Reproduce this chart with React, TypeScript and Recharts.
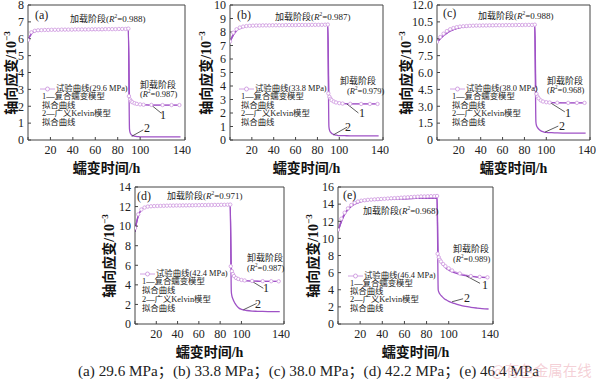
import React from 'react';
import { ComposedChart, Line, XAxis, YAxis, ReferenceLine } from 'recharts';

// time stamps (h) for the test curve and the two fitted curves
const T_EXP = [0, 3, 6, 9, 12, 15, 18, 21, 24, 27, 30, 33, 36, 39, 42, 45, 48, 51, 54, 57, 60, 63, 66, 69, 72, 75, 78, 81, 84, 87, 89.5,
  90, 91, 92, 93, 95, 97, 100, 103, 110, 120, 128, 135];
const T_FIT = [0, 1, 2, 3, 4, 5, 6, 8, 10, 12, 15, 20, 25, 30, 40, 50, 60, 70, 80, 89.5,
  90.5, 91, 92, 94, 96, 98, 100, 105, 110, 115, 120, 125, 130, 136];
const X_TICKS = [0, 20, 40, 60, 80, 100, 120, 140];

// (a) 29.6 MPa
const EXP_A = [5.92, 6.38, 6.47, 6.5, 6.51, 6.52, 6.52, 6.53, 6.53, 6.53, 6.54, 6.54, 6.54, 6.54, 6.55, 6.55, 6.55, 6.55, 6.55, 6.56, 6.56, 6.56, 6.56, 6.57, 6.57, 6.57, 6.57, 6.58, 6.58, 6.58, 6.6,
  2.6, 2.4, 2.3, 2.24, 2.18, 2.14, 2.11, 2.09, 2.08, 2.07, 2.07, 2.07];
const LOAD_A = [5.88, 6.05, 6.18, 6.28, 6.35, 6.4, 6.43, 6.47, 6.49, 6.5, 6.51, 6.52, 6.53, 6.53, 6.54, 6.54, 6.54, 6.55, 6.55, 6.55];
const UNLOAD1_A = [2.55, 2.4, 2.3, 2.2, 2.15, 2.12, 2.1, 2.08, 2.07, 2.07, 2.07, 2.07, 2.07, 2.07];
const UNLOAD2_A = [0.65, 0.45, 0.32, 0.24, 0.21, 0.2, 0.19, 0.18, 0.18, 0.18, 0.18, 0.18, 0.18, 0.18];

// (b) 33.8 MPa
const EXP_B = [7.3, 7.95, 8.2, 8.33, 8.4, 8.44, 8.46, 8.47, 8.48, 8.48, 8.49, 8.49, 8.49, 8.5, 8.5, 8.5, 8.5, 8.51, 8.51, 8.51, 8.51, 8.52, 8.52, 8.52, 8.52, 8.53, 8.53, 8.53, 8.53, 8.54, 8.55,
  3.45, 3.2, 3.05, 2.95, 2.85, 2.78, 2.73, 2.7, 2.68, 2.67, 2.67, 2.67];
const LOAD_B = [7.25, 7.45, 7.62, 7.77, 7.9, 8.0, 8.09, 8.22, 8.31, 8.37, 8.42, 8.46, 8.48, 8.49, 8.5, 8.5, 8.51, 8.51, 8.52, 8.52];
const UNLOAD1_B = [3.4, 3.2, 3.05, 2.9, 2.82, 2.77, 2.74, 2.7, 2.68, 2.67, 2.67, 2.67, 2.67, 2.67];
const UNLOAD2_B = [1.0, 0.75, 0.58, 0.44, 0.38, 0.35, 0.33, 0.32, 0.31, 0.31, 0.3, 0.3, 0.3, 0.3];

// (c) 38.0 MPa
const EXP_C = [8.72, 9.15, 9.45, 9.68, 9.84, 9.95, 10.03, 10.08, 10.11, 10.13, 10.15, 10.16, 10.17, 10.17, 10.18, 10.18, 10.19, 10.19, 10.2, 10.2, 10.2, 10.21, 10.21, 10.21, 10.22, 10.22, 10.22, 10.23, 10.23, 10.23, 10.25,
  4.5, 4.1, 3.85, 3.7, 3.52, 3.42, 3.36, 3.33, 3.31, 3.3, 3.3, 3.3];
const LOAD_C = [8.65, 8.77, 8.89, 9.0, 9.1, 9.19, 9.28, 9.43, 9.56, 9.67, 9.8, 9.96, 10.05, 10.1, 10.15, 10.17, 10.18, 10.19, 10.2, 10.2];
const UNLOAD1_C = [4.3, 4.0, 3.8, 3.6, 3.48, 3.42, 3.38, 3.33, 3.31, 3.3, 3.3, 3.3, 3.3, 3.3];
const UNLOAD2_C = [1.6, 1.3, 1.1, 0.88, 0.77, 0.71, 0.68, 0.65, 0.63, 0.62, 0.62, 0.62, 0.62, 0.62];

// (d) 42.4 MPa
const EXP_D = [9.8, 11.2, 11.7, 11.9, 12.0, 12.03, 12.05, 12.06, 12.07, 12.08, 12.09, 12.1, 12.1, 12.11, 12.11, 12.12, 12.12, 12.13, 12.13, 12.14, 12.14, 12.15, 12.15, 12.16, 12.16, 12.17, 12.17, 12.18, 12.18, 12.19, 12.2,
  5.9, 5.4, 5.1, 4.9, 4.7, 4.6, 4.5, 4.45, 4.4, 4.38, 4.37, 4.36];
const LOAD_D = [9.4, 10.1, 10.6, 11.0, 11.3, 11.5, 11.65, 11.85, 11.95, 12.0, 12.04, 12.07, 12.08, 12.09, 12.1, 12.11, 12.12, 12.12, 12.13, 12.13];
const UNLOAD1_D = [5.8, 5.4, 5.1, 4.8, 4.62, 4.52, 4.46, 4.4, 4.38, 4.37, 4.36, 4.36, 4.36, 4.36];
const UNLOAD2_D = [3.3, 2.9, 2.55, 2.1, 1.8, 1.6, 1.5, 1.38, 1.32, 1.3, 1.28, 1.27, 1.27, 1.27];

// (e) 46.4 MPa
const EXP_E = [11.0, 12.3, 13.0, 13.5, 13.9, 14.15, 14.3, 14.4, 14.45, 14.5, 14.52, 14.55, 14.58, 14.6, 14.62, 14.65, 14.68, 14.7, 14.72, 14.75, 14.78, 14.8, 14.82, 14.85, 14.87, 14.9, 14.9, 14.92, 14.93, 14.93, 14.95,
  8.2, 7.8, 7.5, 7.3, 7.0, 6.75, 6.5, 6.25, 5.9, 5.6, 5.5, 5.45];
const LOAD_E = [10.75, 11.2, 11.6, 11.95, 12.25, 12.55, 12.8, 13.2, 13.5, 13.75, 14.0, 14.25, 14.4, 14.48, 14.55, 14.6, 14.63, 14.66, 14.68, 14.7];
const UNLOAD1_E = [8.0, 7.7, 7.4, 7.0, 6.7, 6.45, 6.3, 6.0, 5.8, 5.65, 5.55, 5.48, 5.44, 5.42];
const UNLOAD2_E = [4.0, 3.75, 3.5, 3.2, 2.95, 2.8, 2.65, 2.4, 2.2, 2.05, 1.95, 1.87, 1.8, 1.75];

const EXP_COLOR = '#d2a2e2';
const FIT_COLOR = '#9f52c6';
const AXIS_COLOR = '#444';
const SERIF = '"Liberation Serif", "Noto Sans CJK SC", serif';

const AX_W = 34;
const TOP = 8;
const RP = 6;
const XH = 22;

type XY = [number, number];
type Panel = {
  tag: string; mpa: string; r2Load: string; r2Unload: string;
  left: number; top: number; w: number; h: number;
  yMax: number; yTicks: number[]; fmt: (v: number) => string;
  exp: number[]; load: number[]; un1: number[]; un2: number[];
  titleOff: number;
  tagAt: XY; loadAt: XY; unloadAt: XY; r2At: XY; oneAt: XY; twoAt: XY; legendAt: XY; gap: number;
  lead1: [number, number, number, number];
  lead2: [number, number, number, number];
};

const intFmt = (v: number) => String(v);

const PANELS: Panel[] = [
  {
    tag: '(a)', mpa: '29.6', r2Load: '0.988', r2Unload: '0.987',
    left: 28, top: 5, w: 157, h: 135, yMax: 8, yTicks: [0, 1, 2, 3, 4, 5, 6, 7, 8], fmt: intFmt,
    exp: EXP_A, load: LOAD_A, un1: UNLOAD1_A, un2: UNLOAD2_A, titleOff: 18,
    tagAt: [7, 10], loadAt: [42, 14], unloadAt: [112, 80], r2At: [112, 89], oneAt: [135, 110], twoAt: [119, 123],
    legendAt: [12, 84], gap: 8.5,
    lead1: [110, 2.07, 119, 1.58], lead2: [92.5, 0.22, 102.8, 0.6],
  },
  {
    tag: '(b)', mpa: '33.8', r2Load: '0.987', r2Unload: '0.979',
    left: 230, top: 5, w: 153, h: 135, yMax: 10, yTicks: [0, 1, 2, 3, 4, 5, 6, 7, 8, 9, 10], fmt: intFmt,
    exp: EXP_B, load: LOAD_B, un1: UNLOAD1_B, un2: UNLOAD2_B, titleOff: 25,
    tagAt: [7, 10], loadAt: [45, 12], unloadAt: [110, 76], r2At: [117, 85.5], oneAt: [132, 108], twoAt: [118, 122],
    legendAt: [9, 84], gap: 8.5,
    lead1: [107, 2.67, 117.5, 2.0], lead2: [94.6, 0.38, 107.3, 0.96],
  },
  {
    tag: '(c)', mpa: '38.0', r2Load: '0.988', r2Unload: '0.968',
    left: 437, top: 5, w: 153, h: 135, yMax: 12, yTicks: [0, 1.5, 3, 4.5, 6, 7.5, 9, 10.5, 12],
    fmt: (v: number) => (v === 0 ? '0' : v.toFixed(1)),
    exp: EXP_C, load: LOAD_C, un1: UNLOAD1_C, un2: UNLOAD2_C, titleOff: 32,
    tagAt: [6, 8], loadAt: [41, 11], unloadAt: [110, 75.5], r2At: [110, 85], oneAt: [131, 108], twoAt: [125, 121],
    legendAt: [13, 84], gap: 8.5,
    lead1: [103.4, 3.33, 117, 2.5], lead2: [98.8, 0.7, 111, 1.24],
  },
  {
    tag: '(d)', mpa: '42.4', r2Load: '0.971', r2Unload: '0.987',
    left: 135, top: 187, w: 149, h: 137, yMax: 14, yTicks: [0, 2, 4, 6, 8, 10, 12, 14], fmt: intFmt,
    exp: EXP_D, load: LOAD_D, un1: UNLOAD1_D, un2: UNLOAD2_D, titleOff: 27,
    tagAt: [2, 9], loadAt: [32, 9], unloadAt: [112, 71], r2At: [112, 81], oneAt: [131, 101], twoAt: [123, 117],
    legendAt: [5, 87], gap: 8.8,
    lead1: [109.6, 4.38, 120.6, 3.65], lead2: [101.8, 1.45, 114.3, 2.1],
  },
  {
    tag: '(e)', mpa: '46.4', r2Load: '0.968', r2Unload: '0.989',
    left: 338, top: 187, w: 155, h: 137, yMax: 16, yTicks: [0, 2, 4, 6, 8, 10, 12, 14, 16], fmt: intFmt,
    exp: EXP_E, load: LOAD_E, un1: UNLOAD1_E, un2: UNLOAD2_E, titleOff: 26,
    tagAt: [5, 8], loadAt: [25, 24], unloadAt: [115, 62], r2At: [115, 71.5], oneAt: [147, 98], twoAt: [129, 111],
    legendAt: [10, 89], gap: 8.2,
    lead1: [116, 5.6, 128.3, 4.75], lead2: [103, 2.6, 113, 2.95],
  },
];

const R2 = ({ v }: { v: string }) => (
  <span>(<i>R</i><span style={{ fontSize: '0.6em', verticalAlign: 'super', lineHeight: 0 }}>2</span>={v})</span>
);

function Legend({ p }: { p: Panel }) {
  const row: React.CSSProperties = { height: p.gap, lineHeight: `${p.gap}px`, whiteSpace: 'nowrap' };
  return (
    <div style={{ position: 'absolute', left: p.left + p.legendAt[0], top: p.top + p.legendAt[1] - p.gap / 2, fontSize: 8.4, color: '#222', fontFamily: SERIF }}>
      <div style={{ ...row, display: 'flex', alignItems: 'center' }}>
        <svg width={15} height={6} style={{ display: 'block' }}>
          <line x1={0} y1={3} x2={15} y2={3} stroke={EXP_COLOR} strokeWidth={1} />
          <circle cx={7.5} cy={3} r={2} fill="#fff" stroke={EXP_COLOR} strokeWidth={1} />
        </svg>
        <span style={{ marginLeft: 1 }}>试验曲线({p.mpa} MPa)</span>
      </div>
      <div style={{ ...row, paddingLeft: 2 }}>1—复合蠕变模型</div>
      <div style={{ ...row, paddingLeft: 2 }}>拟合曲线</div>
      <div style={{ ...row, paddingLeft: 2 }}>2—广义Kelvin模型</div>
      <div style={{ ...row, paddingLeft: 2 }}>拟合曲线</div>
    </div>
  );
}

function CreepPanel({ p }: { p: Panel }) {
  const expData = T_EXP.map((t, i) => ({ t, v: p.exp[i] }));
  const fit1 = T_FIT.map((t, i) => ({ t, v: i < p.load.length ? p.load[i] : p.un1[i - p.load.length] }));
  const fit2 = T_FIT.map((t, i) => ({ t, v: i < p.load.length ? p.load[i] : p.un2[i - p.load.length] }));
  const at = (xy: XY, size: number, center = false, extra: React.CSSProperties = {}): React.CSSProperties => ({
    position: 'absolute', left: p.left + xy[0], top: p.top + xy[1], fontSize: size, lineHeight: 1,
    transform: center ? 'translate(-50%, -50%)' : 'translateY(-50%)', whiteSpace: 'nowrap',
    fontFamily: SERIF, color: '#222', ...extra,
  });
  const tickStyle = { fontSize: 12, fill: '#222', fontFamily: SERIF };

  return (
    <>
      <div style={{ position: 'absolute', left: p.left - AX_W, top: p.top - TOP }}>
        <ComposedChart width={AX_W + p.w + RP} height={TOP + p.h + XH} margin={{ top: TOP, right: RP, left: 0, bottom: 0 }}>
          <XAxis dataKey="t" type="number" domain={[0, 140]} ticks={X_TICKS} allowDataOverflow height={XH}
            tickFormatter={(v: number) => (v === 0 ? '' : String(v))}
            tick={tickStyle} tickSize={-3} tickMargin={8}
            axisLine={{ stroke: AXIS_COLOR }} tickLine={{ stroke: AXIS_COLOR }} />
          <YAxis type="number" domain={[0, p.yMax]} ticks={p.yTicks} width={AX_W} allowDataOverflow
            tickFormatter={p.fmt} tick={tickStyle} tickSize={-3} tickMargin={7} interval={0}
            axisLine={{ stroke: AXIS_COLOR }} tickLine={{ stroke: AXIS_COLOR }} />
          <ReferenceLine x={140} stroke={AXIS_COLOR} />
          <ReferenceLine y={p.yMax} stroke={AXIS_COLOR} />
          <Line data={expData} dataKey="v" type="linear" stroke={EXP_COLOR} strokeWidth={1}
            dot={{ r: 1.7, fill: '#fff', stroke: EXP_COLOR, strokeWidth: 0.9 }} isAnimationActive={false} />
          <Line data={fit1} dataKey="v" type="monotone" stroke={FIT_COLOR} strokeWidth={1.3} dot={false} isAnimationActive={false} />
          <Line data={fit2} dataKey="v" type="monotone" stroke={FIT_COLOR} strokeWidth={1.3} dot={false} isAnimationActive={false} />
          <ReferenceLine segment={[{ x: p.lead1[0], y: p.lead1[1] }, { x: p.lead1[2], y: p.lead1[3] }]} stroke="#333" strokeWidth={0.8} />
          <ReferenceLine segment={[{ x: p.lead2[0], y: p.lead2[1] }, { x: p.lead2[2], y: p.lead2[3] }]} stroke="#333" strokeWidth={0.8} />
        </ComposedChart>
      </div>
      <div style={at(p.tagAt, 12)}>{p.tag}</div>
      <div style={at(p.loadAt, 9)}>加载阶段<R2 v={p.r2Load} /></div>
      <div style={at(p.unloadAt, 9)}>卸载阶段</div>
      <div style={at(p.r2At, 8.5)}><R2 v={p.r2Unload} /></div>
      <div style={at(p.oneAt, 12, true)}>1</div>
      <div style={at(p.twoAt, 12, true)}>2</div>
      <Legend p={p} />
      <div style={{ position: 'absolute', left: p.left + p.w / 2, top: p.top + p.h + 27, transform: 'translate(-50%, -50%)', fontSize: 14, fontWeight: 'bold', fontFamily: SERIF, color: '#111', whiteSpace: 'nowrap' }}>
        蠕变时间/h
      </div>
      <div style={{ position: 'absolute', left: p.left - p.titleOff, top: p.top + p.h / 2, transform: 'translate(-50%, -50%) rotate(-90deg)', fontSize: 14, fontWeight: 'bold', fontFamily: SERIF, color: '#111', whiteSpace: 'nowrap' }}>
        轴向应变/10<span style={{ fontSize: '0.65em', verticalAlign: 'super', lineHeight: 0 }}>−3</span>
      </div>
    </>
  );
}

export default function App() {
  return (
    <div style={{ position: 'absolute', left: 0, top: 0, width: 600, height: 379, background: '#fff', overflow: 'hidden' }}>
      {PANELS.map((p) => <CreepPanel key={p.tag} p={p} />)}
      <div style={{ position: 'absolute', left: 78, top: 369, transform: 'translateY(-50%)', fontSize: 15.2, fontFamily: SERIF, color: '#222', whiteSpace: 'nowrap' }}>
        (a) 29.6 MPa；(b) 33.8 MPa；(c) 38.0 MPa；(d) 42.2 MPa；(e) 46.4 MPa
      </div>
      <div style={{ position: 'absolute', left: 491, top: 369, transform: 'translateY(-50%)', fontSize: 14.5, fontFamily: '"Noto Sans CJK SC", sans-serif', color: 'rgba(232, 150, 165, 0.45)', whiteSpace: 'nowrap' }}>
        @有色金属在线
      </div>
    </div>
  );
}
